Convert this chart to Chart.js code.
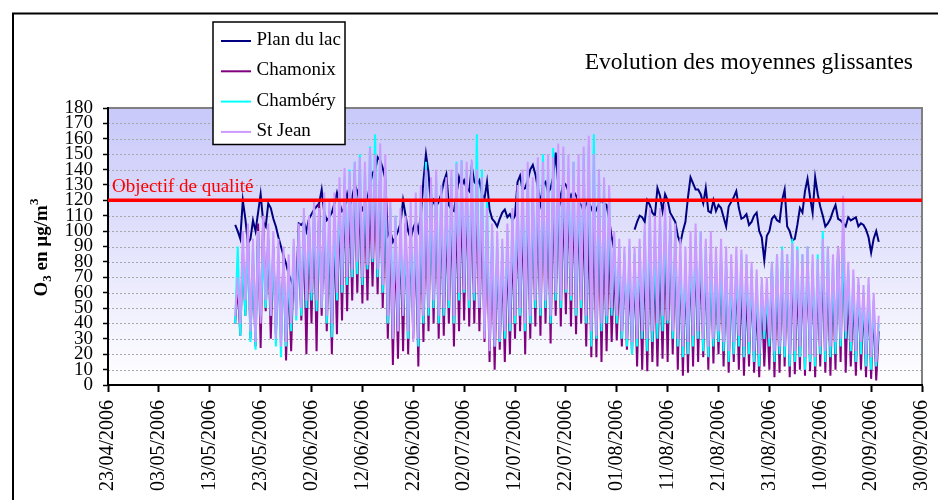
<!DOCTYPE html>
<html><head><meta charset="utf-8">
<script src="https://cdn.jsdelivr.net/npm/chart.js"></script>
<style>html,body{margin:0;padding:0;background:#fff}canvas{display:block}</style>
</head><body>
<canvas id="c" width="938" height="500"></canvas>
<script>
// ---- data ----
const tickLabels = ["23/04/2006","03/05/2006","13/05/2006","23/05/2006","02/06/2006","12/06/2006","22/06/2006","02/07/2006","12/07/2006","22/07/2006","01/08/2006","11/08/2006","21/08/2006","31/08/2006","10/09/2006","20/09/2006","30/09/2006"];
const tickStepDays = 10;
const seriesNames = ["Plan du lac","Chamonix","Chambéry","St Jean"];
const startDay = 25;      // days after 23/04/2006
const stepDays = 0.5;     // half-day samples
const qualityObjective = 120;
const qualityLabel = "Objectif de qualité";
const chartTitle = "Evolution des moyennes glissantes";

const planDuLac = [
104,100,95,120,108,92,95,107,100,112,
124,106,103,118,115,108,103,96,90,84,
79,72,68,63,61,105,104,106,100,108,
111,114,116,118,127,112,107,109,112,118,
125,118,113,115,124,116,122,130,126,118,
114,118,121,130,138,139,148,146,141,134,
97,100,93,96,100,105,120,110,100,95,
102,106,100,110,133,150,138,115,120,116,
119,124,132,137,117,114,113,124,135,129,
133,128,126,142,132,130,133,124,121,132,
114,108,106,103,108,112,114,109,111,107,
110,132,136,127,128,133,140,143,137,128,
118,130,132,125,128,135,151,130,120,132,
130,126,122,126,123,119,117,113,118,119,
115,111,114,118,120,118,117,108,96,88,
null,null,null,null,null,null,null,101,106,110,
109,106,120,117,112,110,128,123,113,124,
120,112,109,106,97,92,100,106,122,135,
131,127,127,124,118,128,113,112,120,113,
117,115,109,103,116,119,122,126,115,108,
109,111,104,106,110,112,100,96,81,97,
100,108,110,107,106,120,127,103,100,94,
95,104,115,112,126,134,122,112,135,124,
116,110,103,105,108,113,117,108,107,105,
103,109,107,108,109,103,105,104,101,96,
86,95,100,93
];
const chamonix = [
40,65,32,85,45,100,30,80,25,105,
24,110,48,95,30,90,33,80,28,85,
16,70,22,80,50,90,42,100,20,105,
40,112,22,118,45,110,35,100,20,100,
33,120,42,130,48,125,55,138,60,128,
53,125,55,130,64,135,59,140,50,120,
30,100,13,95,17,100,22,105,20,100,
30,95,12,110,28,120,35,125,40,120,
30,115,32,110,40,115,25,120,35,125,
42,130,38,125,40,130,35,115,28,100,
15,90,10,85,23,80,15,90,20,95,
30,110,35,115,20,120,30,120,38,125,
32,130,40,120,27,125,45,130,38,125,
46,130,38,125,33,120,40,115,25,110,
18,110,18,115,15,105,22,100,28,80,
29,75,25,80,23,70,20,75,12,80,
10,85,9,90,15,80,12,85,17,95,
15,100,20,90,10,80,6,75,8,85,
12,90,15,85,18,80,10,85,14,75,
20,80,12,75,8,70,15,75,10,70,
6,65,12,70,8,55,5,60,12,50,
10,75,5,70,8,80,12,75,5,80,
7,70,10,75,6,80,9,75,5,70,
12,80,8,75,6,70,10,90,15,102,
8,65,12,60,6,65,10,55,5,60,
4,50,3,35
];
const chambery = [
40,90,32,85,45,95,28,90,23,100,
45,85,50,95,45,90,25,85,18,80,
25,75,35,90,42,100,45,110,50,105,
55,115,48,110,50,120,40,115,31,110,
55,125,60,135,65,140,70,145,72,150,
65,140,75,155,80,163,70,150,60,140,
40,115,30,110,35,100,45,95,30,105,
35,110,25,125,40,145,45,130,50,135,
40,130,45,125,50,135,40,145,55,146,
60,140,50,145,55,163,50,140,35,120,
30,100,25,95,28,90,30,100,35,110,
40,125,45,135,35,140,40,130,50,145,
45,150,50,140,40,154,55,145,50,150,
60,140,55,145,45,135,50,150,40,155,
25,163,30,140,35,130,40,125,45,95,
40,90,30,85,25,90,20,85,25,90,
30,100,22,110,28,95,30,105,35,110,
40,105,30,100,25,85,18,80,20,90,
25,95,30,100,22,90,18,85,25,80,
28,85,22,80,15,75,20,80,25,85,
18,80,20,75,15,70,12,65,30,60,
25,80,15,85,20,90,18,85,12,95,
15,90,18,85,10,90,15,80,12,85,
20,100,15,90,18,80,20,85,25,95,
30,75,22,70,15,65,20,60,12,65,
10,55,12,40
];
const stJean = [
45,70,40,100,55,105,35,95,28,100,
40,110,55,105,45,100,30,95,25,90,
28,85,40,95,45,105,50,115,55,110,
60,120,55,115,50,125,45,120,40,125,
60,135,65,141,70,139,75,145,80,148,
70,145,78,154,82,150,75,157,65,150,
45,120,30,110,35,115,45,110,35,120,
28,125,30,130,45,140,50,135,55,140,
45,130,50,135,55,140,45,144,60,146,
62,145,55,146,60,140,50,135,30,115,
22,105,25,100,30,95,35,105,40,115,
45,130,50,140,40,145,45,135,55,148,
50,145,55,150,45,148,60,157,55,155,
62,150,58,145,50,150,55,155,45,162,
35,150,32,140,40,135,45,130,50,100,
45,95,35,90,30,95,28,90,30,95,
35,105,30,115,35,110,40,115,45,118,
42,110,35,105,30,95,25,90,28,100,
32,105,35,100,30,95,25,100,30,90,
35,95,28,90,22,85,28,90,32,88,
25,85,28,80,22,75,20,70,35,70,
30,80,22,85,25,88,25,85,20,92,
22,88,25,85,18,90,20,85,18,82,
25,95,22,90,25,85,28,90,30,123,
35,80,28,75,22,70,28,65,20,70,
18,60,15,45
];

// ---- rendering ----
const SERIF = '"Liberation Serif", "Times New Roman", Times, serif';
const colors = ["#000080", "#800080", "#00FFFF", "#CC99FF"];
const toPoints = arr => arr.map((v, i) => ({x: startDay + i * stepDays, y: v}));
const seriesData = [planDuLac, chamonix, chambery, stJean];

const datasets = seriesData.map((arr, k) => ({
  label: seriesNames[k],
  data: toPoints(arr),
  borderColor: colors[k],
  backgroundColor: colors[k],
  borderWidth: 2,
  pointRadius: 0,
  tension: 0,
  spanGaps: false,
  order: 4 - k
}));
datasets.push({
  label: qualityLabel,
  data: [{x: 0, y: qualityObjective}, {x: (tickLabels.length - 1) * tickStepDays, y: qualityObjective}],
  borderColor: "#FF0000",
  borderWidth: 3.5,
  pointRadius: 0,
  order: 0
});

const decor = {
  id: 'decor',
  beforeDraw(chart) {
    const {ctx, chartArea: a, scales: {y}} = chart;
    ctx.save();
    ctx.fillStyle = '#fff';
    ctx.fillRect(0, 0, chart.width, chart.height);
    // outer frame
    ctx.strokeStyle = '#000'; ctx.lineWidth = 2;
    ctx.beginPath(); ctx.moveTo(13, chart.height); ctx.lineTo(13, 13.5); ctx.lineTo(chart.width, 13.5); ctx.stroke();
    // plot background
    const g = ctx.createLinearGradient(0, a.top, 0, a.bottom);
    g.addColorStop(0, '#C8C8FA');
    g.addColorStop(1, '#FFFFFF');
    ctx.fillStyle = g;
    ctx.fillRect(a.left, a.top, a.right - a.left, a.bottom - a.top);
    // grid lines
    ctx.strokeStyle = '#A8A8A8'; ctx.lineWidth = 1; ctx.setLineDash([2, 2]);
    y.ticks.forEach(t => {
      if (t.value <= y.min || t.value >= y.max) return;
      const py = Math.round(y.getPixelForValue(t.value)) + 0.5;
      ctx.beginPath(); ctx.moveTo(a.left, py); ctx.lineTo(a.right, py); ctx.stroke();
    });
    ctx.setLineDash([]);
    // top/right border
    ctx.strokeStyle = '#808080'; ctx.lineWidth = 2;
    ctx.beginPath(); ctx.moveTo(a.left, a.top); ctx.lineTo(a.right, a.top); ctx.lineTo(a.right, a.bottom); ctx.stroke();
    ctx.restore();
  },
  afterDraw(chart) {
    const {ctx, chartArea: a, scales: {y}} = chart;
    ctx.save();
    // quality objective label
    ctx.fillStyle = '#FF0000';
    ctx.font = '19px ' + SERIF;
    ctx.textBaseline = 'alphabetic'; ctx.textAlign = 'left';
    ctx.fillText(qualityLabel, a.left + 4, y.getPixelForValue(qualityObjective) - 8);
    // title
    ctx.fillStyle = '#000';
    ctx.font = '23.5px ' + SERIF;
    ctx.textAlign = 'right';
    ctx.fillText(chartTitle, 913, 69);
    // legend box
    const bx = 213, by = 22, bw = 132, bh = 122.5;
    ctx.fillStyle = '#fff';
    ctx.fillRect(bx, by, bw, bh);
    ctx.strokeStyle = '#000'; ctx.lineWidth = 1.5;
    ctx.strokeRect(bx, by, bw, bh);
    ctx.font = '19px ' + SERIF;
    ctx.textAlign = 'left'; ctx.textBaseline = 'middle';
    seriesNames.forEach((name, k) => {
      const ly = 41 + k * 30.3;
      ctx.strokeStyle = colors[k]; ctx.lineWidth = 2;
      ctx.beginPath(); ctx.moveTo(221, ly); ctx.lineTo(251, ly); ctx.stroke();
      ctx.fillStyle = '#000';
      ctx.fillText(name, 256.5, ly - 1);
    });
    // y-axis title: O3 en µg/m3 (sub/superscript)
    ctx.translate(40, (a.top + a.bottom) / 2 + 1);
    ctx.rotate(-Math.PI / 2);
    ctx.textBaseline = 'alphabetic';
    const big = 'bold 19px ' + SERIF, small = 'bold 13px ' + SERIF;
    const parts = [['O', big, 0], ['3', small, 4], [' en µg/m', big, 0], ['3', small, -9]];
    let total = 0;
    parts.forEach(p => { ctx.font = p[1]; total += ctx.measureText(p[0]).width; });
    let xx = -total / 2;
    ctx.fillStyle = '#000';
    parts.forEach(p => { ctx.font = p[1]; ctx.fillText(p[0], xx, 7 + p[2]); xx += ctx.measureText(p[0]).width; });
    ctx.restore();
  }
};

new Chart(document.getElementById('c'), {
  type: 'line',
  data: {datasets},
  options: {
    responsive: false,
    animation: false,
    layout: {padding: {left: 0, right: 16, top: 108, bottom: 0}},
    plugins: {legend: {display: false}, tooltip: {enabled: false}, title: {display: false}},
    scales: {
      x: {
        type: 'linear',
        min: 0,
        max: (tickLabels.length - 1) * tickStepDays,
        afterBuildTicks: s => { s.ticks = tickLabels.map((_, i) => ({value: i * tickStepDays})); },
        afterFit: s => { s.height = 115; s.paddingLeft = 0; s.paddingRight = 0; },
        ticks: {
          callback: v => tickLabels[Math.round(v / tickStepDays)],
          minRotation: 90, maxRotation: 90, autoSkip: false,
          font: {family: SERIF, size: 20}, color: '#000', padding: 8
        },
        grid: {drawOnChartArea: false, drawTicks: true, tickLength: 7, tickColor: '#000', tickWidth: 2},
        border: {display: true, color: '#000', width: 2}
      },
      y: {
        min: 0, max: 180,
        afterFit: s => { s.width = 108; s.paddingTop = 0; s.paddingBottom = 0; },
        ticks: {stepSize: 10, autoSkip: false, font: {family: SERIF, size: 19}, color: '#000', padding: 10},
        grid: {drawOnChartArea: false, drawTicks: true, tickLength: 5, tickColor: '#000', tickWidth: 1.5},
        border: {display: true, color: '#000', width: 2}
      }
    }
  },
  plugins: [decor]
});
</script>
</body></html>
